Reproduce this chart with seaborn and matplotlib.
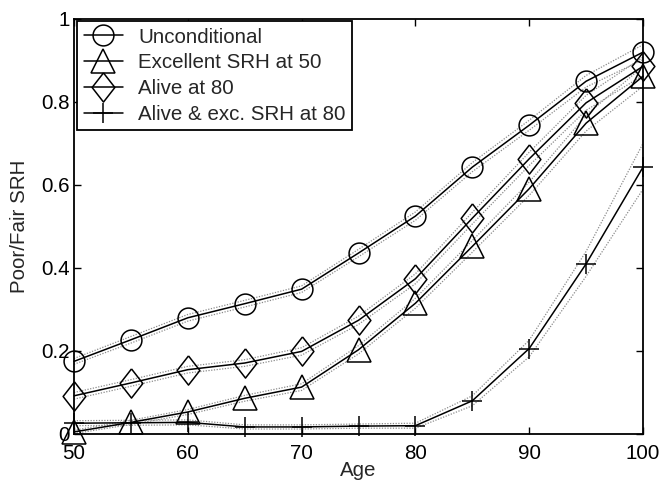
import matplotlib
matplotlib.use("Agg")
import matplotlib.pyplot as plt
import seaborn as sns
import numpy as np
import pandas as pd
from matplotlib.ticker import FuncFormatter

ages = [50, 55, 60, 65, 70, 75, 80, 85, 90, 95, 100]

uncond = [0.175, 0.227, 0.280, 0.314, 0.349, 0.436, 0.525, 0.643, 0.744, 0.850, 0.920]
uncond_lo = [0.168, 0.219, 0.272, 0.306, 0.341, 0.427, 0.515, 0.632, 0.732, 0.836, 0.902]
uncond_hi = [0.182, 0.235, 0.288, 0.322, 0.357, 0.445, 0.535, 0.654, 0.756, 0.864, 0.938]

exc50 = [0.005, 0.028, 0.053, 0.086, 0.113, 0.203, 0.315, 0.452, 0.591, 0.749, 0.862]
exc50_lo = [0.001, 0.023, 0.047, 0.079, 0.105, 0.193, 0.303, 0.438, 0.575, 0.730, 0.838]
exc50_hi = [0.009, 0.033, 0.059, 0.093, 0.121, 0.213, 0.327, 0.466, 0.607, 0.768, 0.886]

alive80 = [0.092, 0.123, 0.155, 0.171, 0.199, 0.274, 0.374, 0.520, 0.663, 0.798, 0.886]
alive80_lo = [0.084, 0.115, 0.147, 0.163, 0.190, 0.264, 0.362, 0.506, 0.647, 0.780, 0.864]
alive80_hi = [0.100, 0.131, 0.163, 0.179, 0.208, 0.284, 0.386, 0.534, 0.679, 0.816, 0.908]

aliveexc = [0.026, 0.027, 0.028, 0.017, 0.017, 0.019, 0.020, 0.080, 0.206, 0.410, 0.643]
aliveexc_lo = [0.020, 0.021, 0.022, 0.012, 0.012, 0.014, 0.014, 0.068, 0.186, 0.380, 0.590]
aliveexc_hi = [0.032, 0.033, 0.034, 0.022, 0.022, 0.024, 0.026, 0.092, 0.226, 0.440, 0.700]

labels = ["Unconditional", "Excellent SRH at 50", "Alive at 80", "Alive & exc. SRH at 80"]

sns.set_style("ticks")
plt.rcParams["font.family"] = ["Liberation Sans", "DejaVu Sans"]
plt.rcParams["xtick.direction"] = "in"
plt.rcParams["ytick.direction"] = "in"

FS = 14.8

fig = plt.figure(figsize=(6.62, 4.82), dpi=100)
ax = fig.add_axes([0.1118, 0.0996, 0.9713 - 0.1118, 0.9606 - 0.0996])

diamond = [(0, 1), (0.78, 0), (0, -1), (-0.78, 0), (0, 1)]

series = [
    (uncond, uncond_lo, uncond_hi, "o", 15),
    (exc50, exc50_lo, exc50_hi, "^", 17),
    (alive80, alive80_lo, alive80_hi, diamond, 21),
    (aliveexc, aliveexc_lo, aliveexc_hi, "+", 15),
]

# confidence bands (dotted gray)
for vals, lo, hi, m, ms in series:
    for band in (lo, hi):
        sns.lineplot(x=ages, y=band, ax=ax, color="#8c8c8c", linestyle=(0, (1, 1.2)),
                     linewidth=0.9, legend=False)

handles = []
for (vals, lo, hi, m, ms), lab in zip(series, labels):
    sns.lineplot(x=ages, y=vals, ax=ax, color="black", linewidth=1.1, marker=m,
                 markersize=ms, markerfacecolor="none", markeredgecolor="black",
                 markeredgewidth=1.1, clip_on=False, legend=False)
    handles.append(ax.lines[-1])

ax.set_xlim(50, 100)
ax.set_ylim(0, 1)
ax.set_xticks([50, 60, 70, 80, 90, 100])
ax.set_yticks([0, 0.2, 0.4, 0.6, 0.8, 1.0])
ax.yaxis.set_major_formatter(FuncFormatter(lambda v, p: f"{v:g}"))
ax.tick_params(axis="both", which="both", labelsize=FS, length=5, width=1,
               top=True, right=True, colors="black")
ax.tick_params(axis="x", pad=7)
ax.tick_params(axis="y", pad=3)
for s in ax.spines.values():
    s.set_visible(True)
    s.set_linewidth(1.3)
    s.set_color("black")

ax.set_xlabel("Age", fontsize=FS, labelpad=-1)
ax.set_ylabel("Poor/Fair SRH", fontsize=FS, labelpad=9)

leg = ax.legend(handles=handles, labels=labels, loc="upper left",
                bbox_to_anchor=(0.006, 0.994), borderaxespad=0, fontsize=FS,
                fancybox=False, edgecolor="black", framealpha=1,
                handlelength=1.9, handletextpad=0.75, labelspacing=0.33,
                borderpad=0.3)
leg.get_frame().set_linewidth(1.3)

fig.savefig("out.png", dpi=100)
